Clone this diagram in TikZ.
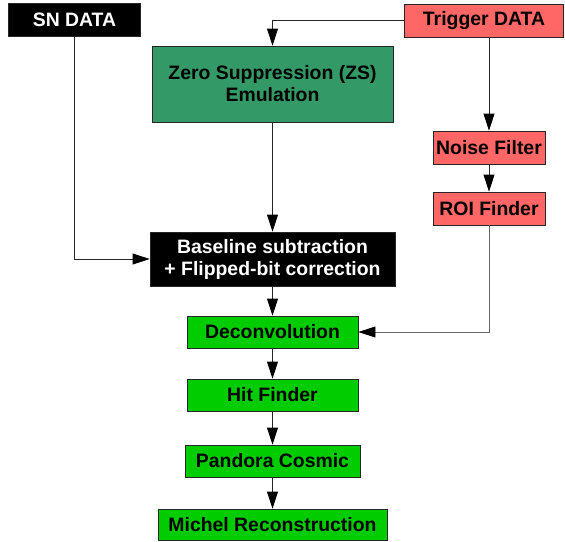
\documentclass[tikz,border=0pt]{standalone}
\usepackage{fontspec}
\setmainfont{Liberation Sans}
\usetikzlibrary{arrows.meta}
\definecolor{trigred}{HTML}{FF6666}
\definecolor{zsgreen}{HTML}{339966}
\definecolor{brgreen}{HTML}{00CC00}
\begin{document}
\begin{tikzpicture}[x=1pt,y=-1pt,
  box/.style={draw=black!85, line width=0.8pt, inner sep=0pt, align=center,
    font=\fontsize{19.4}{22}\selectfont\bfseries},
  blkbox/.style={box, fill=black, text=white},
  trigbox/.style={box, fill=trigred},
  zsbox/.style={box, fill=zsgreen},
  grbox/.style={box, fill=brgreen},
  arr/.style={-{Triangle[length=17pt,width=11pt,color=black]}, line width=0.8pt, draw=black!85},
  garr/.style={arr, draw=black!60}]
\useasboundingbox (0,0) rectangle (565,541);
\node[blkbox, minimum width=132pt, minimum height=33pt] (sn) at (74.5,19.5) {SN DATA};
\node[trigbox, minimum width=159pt, minimum height=33pt] (trig) at (484,20.5) {Trigger DATA};
\node[zsbox, minimum width=241pt, minimum height=76pt] (zs) at (272.5,84) {Zero Suppression (ZS)\\Emulation};
\node[trigbox, minimum width=112pt, minimum height=33pt] (nf) at (489,147.5) {Noise Filter};
\node[trigbox, minimum width=112pt, minimum height=33pt] (roi) at (489,208.5) {ROI Finder};
\node[blkbox, minimum width=245pt, minimum height=54pt] (bl) at (272.5,259) {Baseline subtraction\\+ Flipped-bit correction};
\node[grbox, minimum width=171pt, minimum height=32pt] (dec) at (272.5,332) {Deconvolution};
\node[grbox, minimum width=171pt, minimum height=32pt] (hit) at (272.5,395) {Hit Finder};
\node[grbox, minimum width=175pt, minimum height=32pt] (pan) at (272.5,461) {Pandora Cosmic};
\node[grbox, minimum width=229pt, minimum height=31pt] (mic) at (272.5,524.5) {Michel Reconstruction};
\draw[arr] (trig.west) -| (zs.north);
\draw[arr] (trig.south -| nf.north) -- (nf.north);
\draw[arr] (nf.south) -- (roi.north);
\draw[arr] (sn.south) |- (bl.west);
\draw[arr] (zs.south) -- (bl.north);
\draw[arr] (bl.south) -- (dec.north);
\draw[garr] (roi.south) |- (dec.east);
\draw[arr] (dec.south) -- (hit.north);
\draw[arr] (hit.south) -- (pan.north);
\draw[arr] (pan.south) -- (mic.north);
\end{tikzpicture}
\end{document}
